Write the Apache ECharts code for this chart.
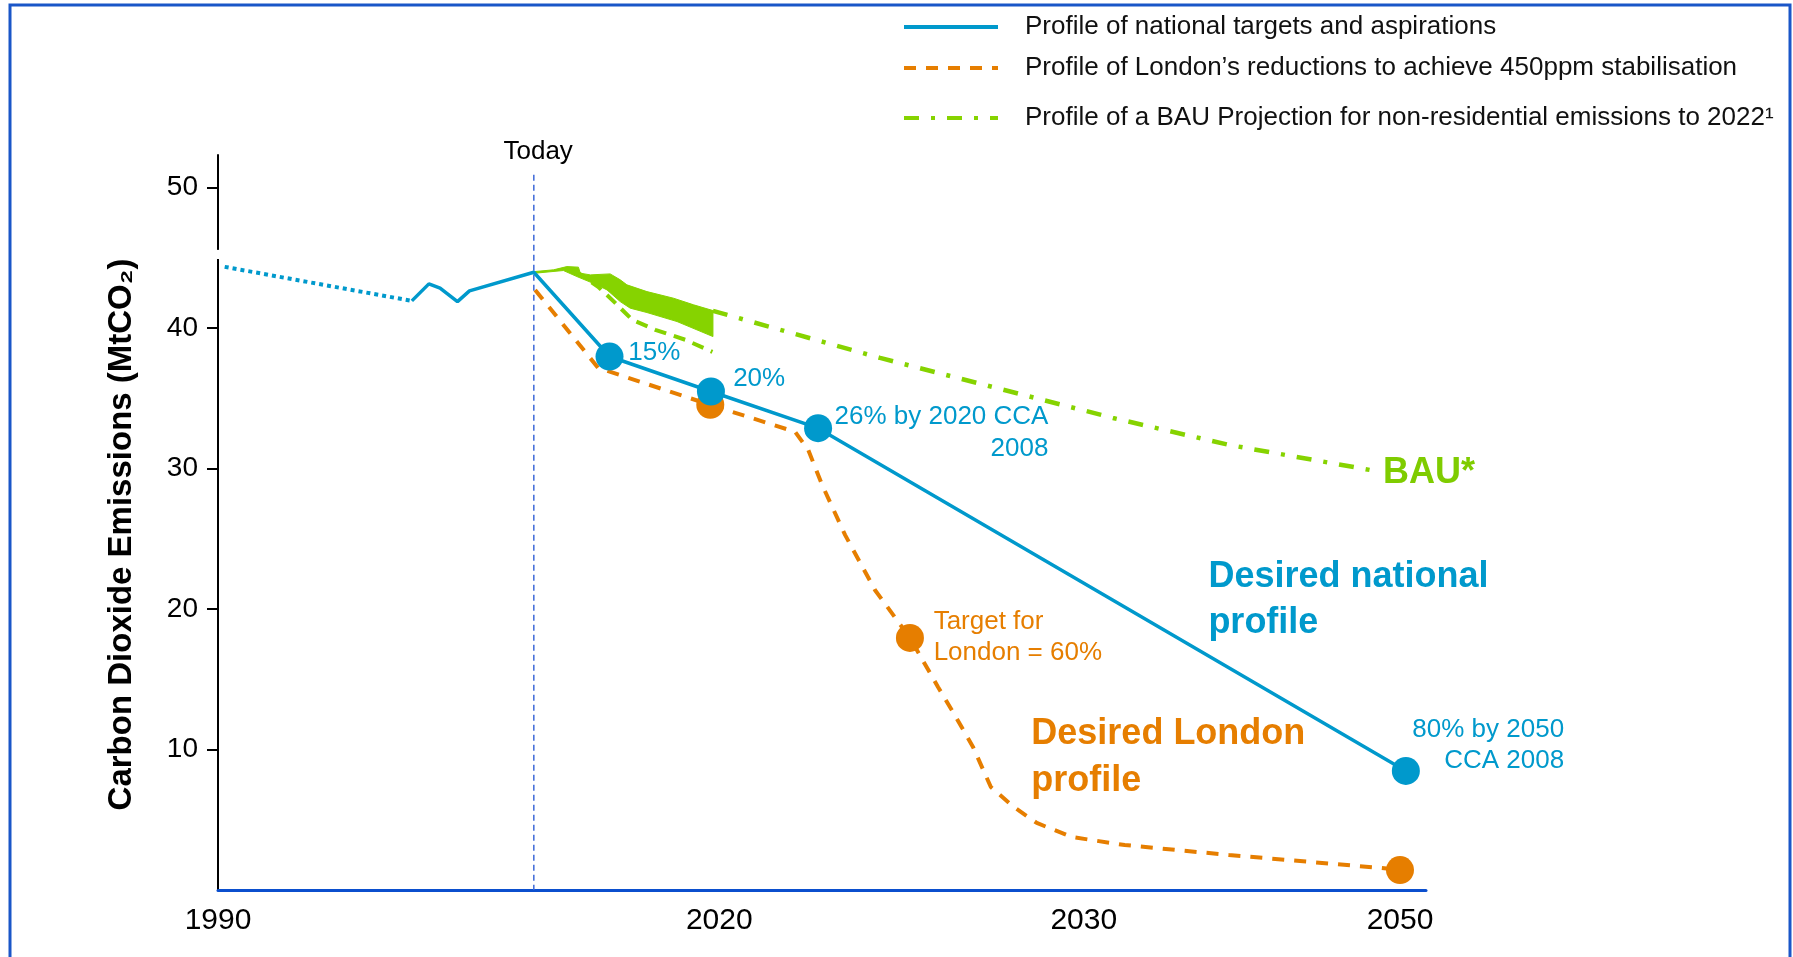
<!DOCTYPE html>
<html>
<head>
<meta charset="utf-8">
<script src="https://cdn.jsdelivr.net/npm/echarts@6/dist/echarts.min.js"></script>
<style>
html,body{margin:0;padding:0;background:#fff;}
#chart{width:1793px;height:957px;}
</style>
</head>
<body>
<div id="chart"></div>
<script>
// ---------------- DATA ----------------
const xTickYears  = [1990, 2020, 2030, 2050];
const xTickLabels = ['1990', '2020', '2030', '2050'];
const yTicks      = [10, 20, 30, 40, 50];

// historic (dotted) national emissions
const histYears  = [1990.4, 2001.6];
const histValues = [44.34, 41.92];

// profile of national targets and aspirations
const natYears  = [2001.6, 2002.62, 2003.29, 2004.33, 2005.05, 2008.9, 2013.43, 2019.5, 2022.71, 2050.37];
const natValues = [41.92, 43.13, 42.83, 41.87, 42.63, 43.96, 37.96, 35.47, 32.86, 8.47];
const natMarkYears  = [2013.43, 2019.5, 2022.71, 2050.37];
const natMarkValues = [37.96, 35.47, 32.86, 8.47];

// London's reductions (450ppm)
const lonYears  = [2008.98, 2012.75, 2019.46, 2022.08, 2022.44, 2022.82, 2023.45, 2024.27, 2025.23, 2026.0, 2026.49, 2026.96, 2027.45, 2028.08, 2028.71, 2029.67, 2032.59, 2039.18, 2048.8, 2050];
const lonValues = [42.70, 37.15, 34.52, 32.6, 31.32, 28.83, 25.27, 21.35, 17.94, 14.45, 12.31, 10.18, 7.33, 5.91, 4.77, 3.77, 3.20, 2.49, 1.57, 1.42];
const lonMarkYears  = [2019.46, 2025.23, 2050];
const lonMarkValues = [34.52, 17.94, 1.42];

// BAU projection
const bauYears  = [2019.62, 2024.41, 2027.70, 2031.84, 2039.18, 2048.1];
const bauValues = [41.21, 37.86, 35.66, 33.59, 31.67, 29.89];
const bauLowYears  = [2011.38, 2012.75, 2013.77, 2014.79, 2016.17, 2017.97, 2019.59];
const bauLowValues = [44.06, 42.92, 41.78, 40.57, 39.86, 39.15, 38.29];
const bandUpperYears  = [2008.98, 2010.08, 2010.88, 2011.57, 2011.68, 2012.28, 2013.47, 2014.07, 2014.47, 2015.67, 2017.26, 2018.46, 2019.62];
const bandUpperValues = [44.01, 44.13, 44.36, 44.32, 43.89, 43.77, 43.84, 43.42, 43.06, 42.58, 42.11, 41.64, 41.23];
const bandLowerYears  = [2008.98, 2010.67, 2011.48, 2012.68, 2013.28, 2014.07, 2014.67, 2015.67, 2017.47, 2019.62];
const bandLowerValues = [43.89, 44.08, 43.65, 43.06, 42.70, 41.87, 41.40, 41.09, 40.45, 39.38];

// today marker
const todayYear = 2008.9;
const todayLineValues = [50.9, 0];

// annotations: text + anchor (year, value)
const annTexts  = ['Today', '15%', '20%', '26% by 2020 CCA\n2008', 'BAU*', 'Desired national\nprofile', 'Target for\nLondon = 60%', 'Desired London\nprofile', '80% by 2050\nCCA 2008'];
const annYears  = [2009.16, 2014.55, 2020.38, 2029.03, 2048.92, 2037.88, 2025.88, 2028.56, 2060.38];
const annValues = [52.53, 38.22, 36.37, 32.56, 29.68, 20.64, 17.98, 9.43, 10.32];

const nameNat = 'Profile of national targets and aspirations';
const nameLon = 'Profile of London\u2019s reductions to achieve 450ppm stabilisation';
const nameBau = 'Profile of a BAU Projection for non-residential emissions to 2022\u00B9';

// ---------------- LAYOUT / STYLE ----------------
const xAnchor = [0, 50.13, 86.58, 118.2];   // axis units where the year labels sit
const FONT = 'Arial, "Liberation Sans", Helvetica, sans-serif';
const BLUE = '#0099cc', ORANGE = '#e67e00', GREEN = '#86d300', GREEN_TXT = '#7fcc00';

function warp(year) {
  let i = 0;
  while (i < xTickYears.length - 2 && year > xTickYears[i + 1]) i++;
  const y0 = xTickYears[i], y1 = xTickYears[i + 1];
  const p0 = xAnchor[i], p1 = xAnchor[i + 1];
  return p0 + (year - y0) * (p1 - p0) / (y1 - y0);
}
function pts(years, values) { return years.map((y, i) => [warp(y), values[i]]); }

const annStyles = [
  {fill:'#000', size:26, weight:'normal', align:'center', lh:30},
  {fill:BLUE, size:26, weight:'normal', align:'left', lh:30},
  {fill:BLUE, size:26, weight:'normal', align:'left', lh:30},
  {fill:BLUE, size:26, weight:'normal', align:'right', lh:32},
  {fill:GREEN_TXT, size:36, weight:'bold', align:'left', lh:40},
  {fill:BLUE, size:36, weight:'bold', align:'left', lh:46},
  {fill:ORANGE, size:26, weight:'normal', align:'left', lh:31},
  {fill:ORANGE, size:36, weight:'bold', align:'left', lh:47},
  {fill:BLUE, size:26, weight:'normal', align:'right', lh:31}
];

const chart = echarts.init(document.getElementById('chart'), null, {renderer:'canvas'});

const legendCommon = {
  orient:'horizontal', left:902, padding:0, itemWidth:94, itemHeight:14, selectedMode:false,
  itemStyle:{opacity:0},
  lineStyle:{width:4},
  textStyle:{fontSize:26, color:'#111', fontFamily:FONT, padding:[0,0,0,22], lineHeight:30}
};

const option = {
  animation:false,
  backgroundColor:'#ffffff',
  textStyle:{fontFamily:FONT},
  legend:[
    Object.assign({}, legendCommon, {data:[nameNat], top:12}),
    Object.assign({}, legendCommon, {data:[nameLon], top:53}),
    Object.assign({}, legendCommon, {data:[nameBau], top:103})
  ],
  grid:{left:218, right:367, top:155, bottom:67, containLabel:false},
  xAxis:{
    type:'value', min:0, max:120.8,
    axisLine:{show:true, lineStyle:{color:'#0b4fce', width:3}},
    axisTick:{show:false},
    splitLine:{show:false},
    axisLabel:{
      customValues:xAnchor,
      formatter:function(v){
        for (let i = 0; i < xAnchor.length; i++) if (Math.abs(v - xAnchor[i]) < 0.01) return xTickLabels[i];
        return '';
      },
      fontSize:30, color:'#000', margin:16, fontFamily:FONT
    }
  },
  yAxis:{
    type:'value', min:0, max:52.3, interval:10,
    axisLine:{show:true, lineStyle:{color:'#000', width:2}},
    axisTick:{show:true, length:11, lineStyle:{color:'#000', width:2}, customValues:yTicks},
    axisLabel:{customValues:yTicks, fontSize:28, color:'#000', margin:20, fontFamily:FONT},
    splitLine:{show:false},
    name:'Carbon Dioxide Emissions (MtCO\u2082)',
    nameLocation:'middle', nameRotate:90, nameGap:80,
    nameTextStyle:{fontSize:33, fontWeight:'bold', color:'#000', fontFamily:FONT, padding:[0,24,0,0]}
  },
  series:[
    {
      type:'line', name:'today', data:[[warp(todayYear), todayLineValues[0]], [warp(todayYear), todayLineValues[1]]],
      symbol:'none', silent:true, z:1,
      lineStyle:{color:'#3d68d8', width:1.5, type:[6,4]}
    },
    {
      type:'custom', name:'band', silent:true, z:2, clip:false,
      data:[[warp(bandUpperYears[0]), bandUpperValues[0]]],
      renderItem:function(params, api){
        const up = pts(bandUpperYears, bandUpperValues).map(p => api.coord(p));
        const lo = pts(bandLowerYears, bandLowerValues).map(p => api.coord(p)).reverse();
        return {type:'polygon', shape:{points:up.concat(lo)}, style:{fill:GREEN, stroke:GREEN, lineWidth:1}};
      }
    },
    {
      type:'line', name:'bauLow', data:pts(bauLowYears, bauLowValues), symbol:'none', silent:true, z:2,
      lineStyle:{color:GREEN, width:4, type:[12,8]}
    },
    {
      type:'line', name:nameBau, data:pts(bauYears, bauValues), symbol:'none', silent:true, z:2,
      lineStyle:{color:GREEN, width:4.5, type:[15,12,4,12]}, itemStyle:{color:GREEN}
    },
    {
      type:'line', name:nameLon, data:pts(lonYears, lonValues), symbol:'none', silent:true, z:3,
      lineStyle:{color:ORANGE, width:4, type:[12,10]}, itemStyle:{color:ORANGE}
    },
    {
      type:'scatter', name:'lonMarks', data:pts(lonMarkYears, lonMarkValues), symbol:'circle', symbolSize:28,
      silent:true, z:4, itemStyle:{color:ORANGE, opacity:1}
    },
    {
      type:'line', name:'hist', data:pts(histYears, histValues), symbol:'none', silent:true, z:5,
      lineStyle:{color:BLUE, width:4, type:[4,4]}
    },
    {
      type:'line', name:nameNat, data:pts(natYears, natValues), symbol:'none', silent:true, z:6,
      lineStyle:{color:BLUE, width:3.5}, itemStyle:{color:BLUE}
    },
    {
      type:'scatter', name:'natMarks', data:pts(natMarkYears, natMarkValues), symbol:'circle', symbolSize:28,
      silent:true, z:7, itemStyle:{color:BLUE, opacity:1}
    },
    {
      type:'custom', name:'annotations', silent:true, z:10, clip:false,
      data:pts(annYears, annValues),
      renderItem:function(params, api){
        const i = params.dataIndex;
        const p = api.coord([api.value(0), api.value(1)]);
        const s = annStyles[i];
        return {type:'text', x:p[0], y:p[1], style:{
          text:annTexts[i], fill:s.fill, fontSize:s.size, fontWeight:s.weight, fontFamily:FONT,
          align:s.align, verticalAlign:'middle', lineHeight:s.lh
        }};
      }
    }
  ]
};
chart.setOption(option);

// frame and y-axis break (decoration)
const yBreakTop = chart.convertToPixel({yAxisIndex:0}, 45.55);
const yBreakBot = chart.convertToPixel({yAxisIndex:0}, 44.9);
const xAxisPx = chart.convertToPixel({xAxisIndex:0}, 0);
chart.setOption({
  graphic:[
    {type:'rect', z:100, silent:true, shape:{x:10, y:5, width:1780, height:1000},
     style:{fill:'transparent', stroke:'#1a56c8', lineWidth:3}},
    {type:'rect', z:100, silent:true, shape:{x:xAxisPx-4, y:yBreakTop, width:8, height:yBreakBot-yBreakTop},
     style:{fill:'#ffffff'}}
  ]
});
</script>
</body>
</html>
